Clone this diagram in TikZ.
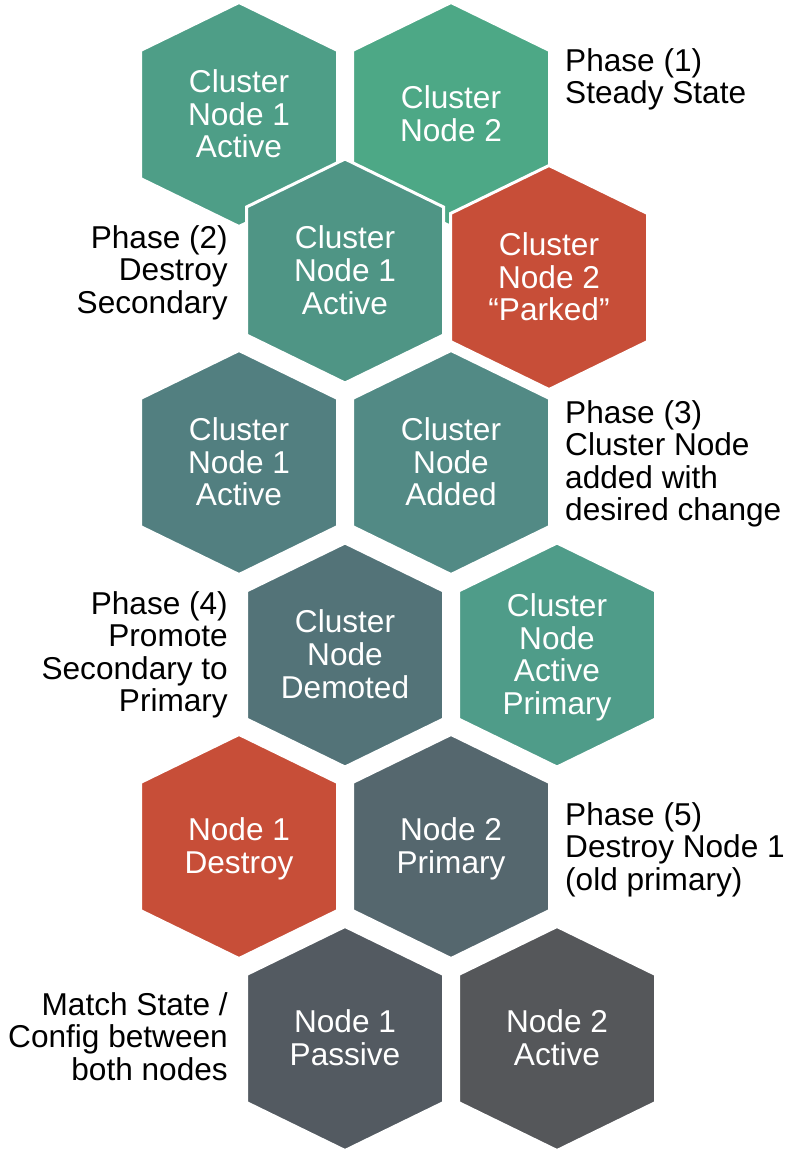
\documentclass[tikz,border=0pt]{standalone}
\usepackage{fontspec}
\setmainfont{Liberation Sans}
\usetikzlibrary{calc}
\definecolor{hexA}{RGB}{78,158,135}
\definecolor{hexB}{RGB}{77,168,134}
\definecolor{hexC}{RGB}{79,149,133}
\definecolor{hexRed}{RGB}{199,78,56}
\definecolor{hexE}{RGB}{82,127,128}
\definecolor{hexF}{RGB}{82,138,133}
\definecolor{hexG}{RGB}{83,115,120}
\definecolor{hexH}{RGB}{79,156,137}
\definecolor{hexJ}{RGB}{85,103,110}
\definecolor{hexK}{RGB}{83,90,97}
\definecolor{hexL}{RGB}{85,87,90}
\tikzset{
  hexshape/.style={draw=white, line width=3pt, line join=miter},
  hextext/.style={text=white, inner sep=0pt, anchor=center, font=\fontsize{31.6}{32.5}\selectfont},
  phaselbl/.style={text=black, inner sep=0pt, font=\fontsize{31.6}{32.5}\selectfont},
}
\newcommand\hexcell[4]{%
  \coordinate (#1) at #2;
  \filldraw[hexshape, fill=#3] ($(#1)+(0,-112)$) -- ++(98.5,48) -- ++(0,128) -- ++(-98.5,48) -- ++(-98.5,-48) -- ++(0,-128) -- cycle;
  \node[hextext] (#1-t) at ($(#1)+(0,4)$) {\begin{tabular}{@{}c@{}}#4\end{tabular}};
}
\begin{document}
\begin{tikzpicture}[x=1pt,y=-1pt]
\useasboundingbox (0,0) rectangle (787,1152);
% row 1
\hexcell{A}{(239,114.5)}{hexA}{Cluster\\Node 1\\Active}
\hexcell{B}{(451,114.5)}{hexB}{Cluster\\Node 2}
% row 2
\hexcell{C}{(345,271)}{hexC}{Cluster\\Node 1\\Active}
\hexcell{D}{(549,277.5)}{hexRed}{Cluster\\Node 2\\“Parked”}
% row 3
\hexcell{E}{(239,462.5)}{hexE}{Cluster\\Node 1\\Active}
\hexcell{F}{(451,462.5)}{hexF}{Cluster\\Node\\Added}
% row 4
\hexcell{G}{(345,655)}{hexG}{Cluster\\Node\\Demoted}
\hexcell{H}{(557,655)}{hexH}{Cluster\\Node\\Active\\Primary}
% row 5
\hexcell{I}{(239,846.5)}{hexRed}{Node 1\\Destroy}
\hexcell{J}{(451,846.5)}{hexJ}{Node 2\\Primary}
% row 6
\hexcell{K}{(345,1038.5)}{hexK}{Node 1\\Passive}
\hexcell{L}{(557,1038.5)}{hexL}{Node 2\\Active}
% labels
\node[phaselbl, anchor=base west] (p1) at (565,71) {\begin{tabular}[t]{@{}l@{}}Phase (1)\\Steady State\end{tabular}};
\node[phaselbl, anchor=base east] (p2) at (228,248) {\begin{tabular}[t]{@{}r@{}}Phase (2)\\Destroy\\Secondary\end{tabular}};
\node[phaselbl, anchor=base west] (p3) at (565,423) {\begin{tabular}[t]{@{}l@{}}Phase (3)\\Cluster Node\\added with\\desired change\end{tabular}};
\node[phaselbl, anchor=base east] (p4) at (228,614) {\begin{tabular}[t]{@{}r@{}}Phase (4)\\Promote\\Secondary to\\Primary\end{tabular}};
\node[phaselbl, anchor=base west] (p5) at (565,825) {\begin{tabular}[t]{@{}l@{}}Phase (5)\\Destroy Node 1\\(old primary)\end{tabular}};
\node[phaselbl, anchor=base east] (p6) at (228,1015) {\begin{tabular}[t]{@{}r@{}}Match State /\\Config between\\both nodes\end{tabular}};
\end{tikzpicture}
\end{document}
